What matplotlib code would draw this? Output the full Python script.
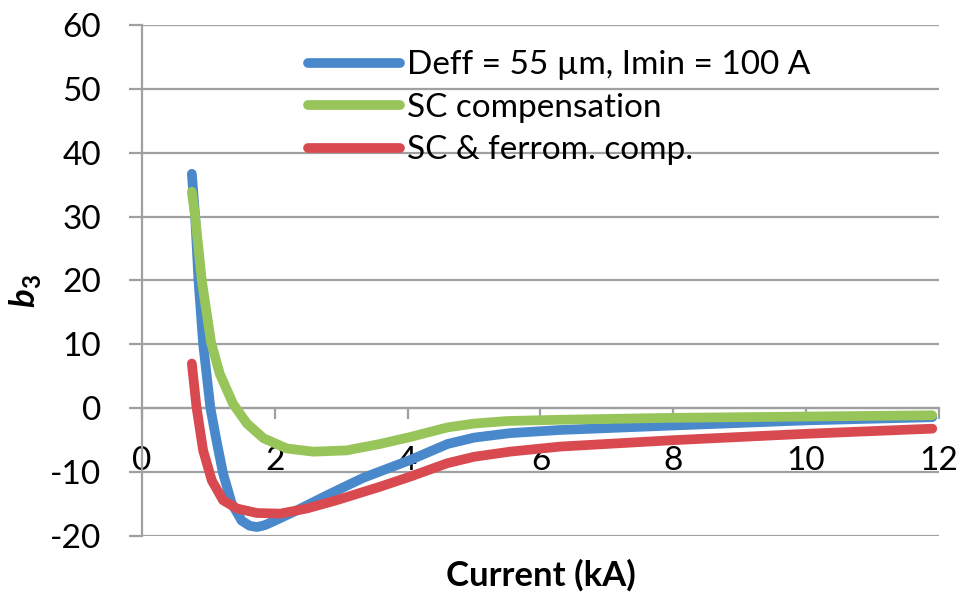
import matplotlib.pyplot as plt

# Series (current in kA, b3)
blue_x = [0.75, 0.80, 0.85, 0.92, 1.03, 1.12, 1.22, 1.35, 1.50, 1.62, 1.73, 1.85, 1.98, 2.33, 2.83, 3.33,
          4.04, 4.6, 5.0, 5.54, 6.3, 8, 10, 11.9]
blue_y = [36.7, 30, 20, 10.1, 0, -5.0, -10.2, -14.9, -17.6, -18.4, -18.6, -18.3, -17.7, -16.0, -13.4, -10.9,
          -8.1, -5.6, -4.6, -3.9, -3.4, -2.7, -1.9, -1.4]

green_x = [0.75, 0.80, 0.90, 1.04, 1.17, 1.37, 1.58, 1.83, 2.18, 2.58, 3.08, 3.58, 4.04, 4.6,
           5.0, 5.5, 6.3, 8, 10, 11.9]
green_y = [33.9, 30, 20, 10.3, 5.4, 0.7, -2.4, -4.7, -6.3, -6.8, -6.6, -5.6, -4.5, -3.0,
           -2.4, -2.0, -1.8, -1.5, -1.3, -1.1]

red_x = [0.75, 0.82, 0.92, 1.05, 1.22, 1.43, 1.73, 2.08, 2.48, 2.93, 3.58, 4.04, 4.6, 5.0, 5.54,
         6.3, 8, 10, 11.9]
red_y = [7.0, 0.2, -6.6, -11.3, -14.4, -15.7, -16.4, -16.5, -15.7, -14.4, -12.3, -10.7, -8.6, -7.6, -6.8,
         -6.0, -5.0, -4.0, -3.2]

labels = ["Deff = 55 µm, Imin = 100 A", "SC compensation", "SC & ferrom. comp."]
colors = ["#4a88cc", "#98c55a", "#d84a50"]

x_ticks = [0, 2, 4, 6, 8, 10, 12]
y_ticks = [-20, -10, 0, 10, 20, 30, 40, 50, 60]

plt.rcParams['font.family'] = ['Lato', 'DejaVu Sans']
plt.rcParams['axes.unicode_minus'] = False
plt.rcParams['mathtext.fontset'] = 'custom'
plt.rcParams['mathtext.bfit'] = 'Lato:bold:italic'
plt.rcParams['mathtext.bf'] = 'Lato:bold'

fig = plt.figure(figsize=(9.61, 5.98), dpi=100)
ax = fig.add_axes([0.1478, 0.1037, 0.8292, 0.8545])

grid_col = "#a0a0a0"
for xs, ys, c, lab in zip([blue_x, green_x, red_x], [blue_y, green_y, red_y], colors, labels):
    ax.plot(xs, ys, color=c, lw=7, solid_capstyle='round', solid_joinstyle='round', label=lab, zorder=3)

ax.set_xlim(0, 12)
ax.set_ylim(-20, 60)
ax.set_xticks(x_ticks)
ax.set_yticks(y_ticks)

ax.yaxis.grid(True, color=grid_col, lw=1.6)
ax.set_axisbelow(True)

for s in ['top', 'right']:
    ax.spines[s].set_visible(False)
ax.spines['bottom'].set_position(('data', 0))
ax.spines['bottom'].set_color(grid_col)
ax.spines['bottom'].set_linewidth(1.6)
ax.spines['left'].set_color(grid_col)
ax.spines['left'].set_linewidth(1.6)

ax.tick_params(axis='x', direction='out', length=8, width=1.6, color=grid_col, pad=19, labelsize=24)
ax.tick_params(axis='y', direction='out', length=9.4, width=1.6, color=grid_col, pad=20, labelsize=24)

ax.set_xlabel("Current (kA)", fontsize=25, fontweight='bold', labelpad=0)
ax.xaxis.set_label_coords(0.5, -0.045)
ax.set_ylabel(r"$\mathbfit{b}_\mathbf{3}$", fontsize=25)
ax.yaxis.set_label_coords(-0.124, 0.48)

leg = ax.legend(loc='upper left', bbox_to_anchor=(0.3205, 0.916), bbox_transform=fig.transFigure,
                frameon=False, fontsize=24, handlelength=2.76, handletextpad=0.2,
                labelspacing=0.375, borderpad=0, borderaxespad=0)
for line in leg.get_lines():
    line.set_linewidth(7)
    line.set_solid_capstyle('round')

fig.savefig("out.png", dpi=100)
